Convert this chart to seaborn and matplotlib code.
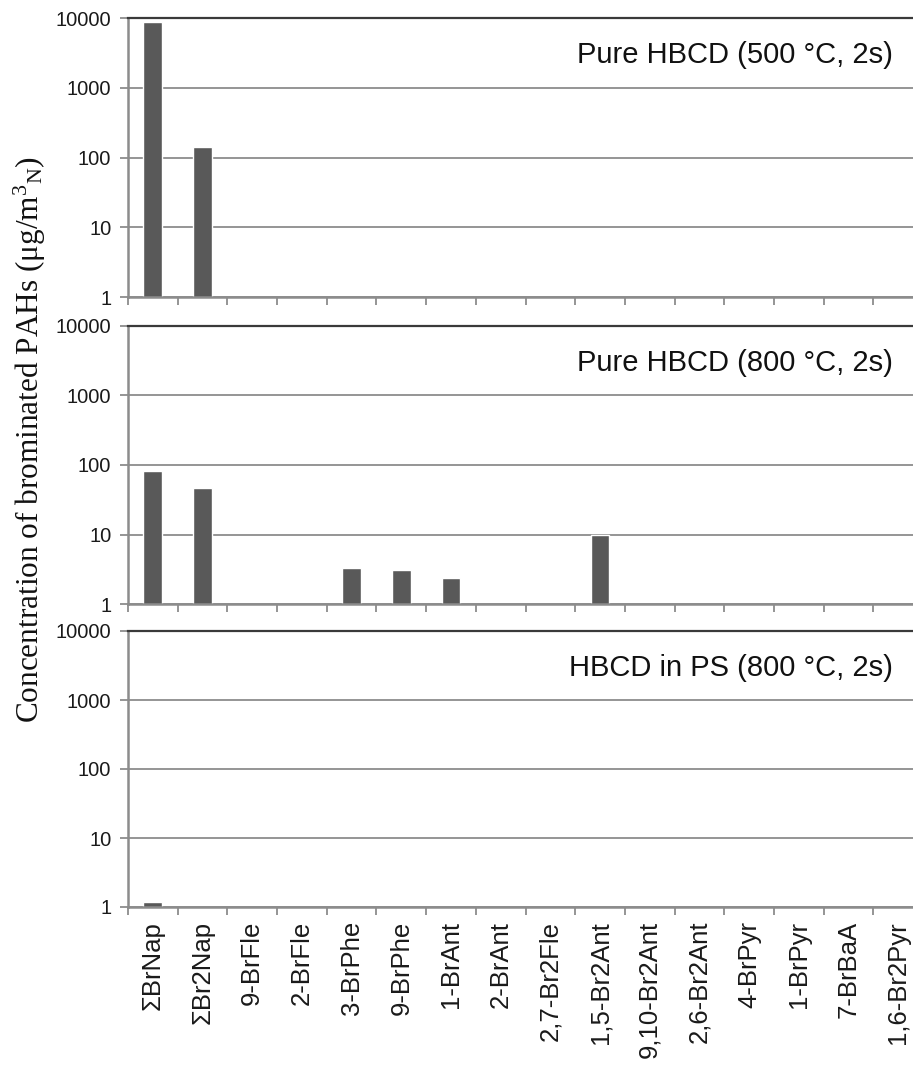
import seaborn as sns
import matplotlib.pyplot as plt
import matplotlib.ticker as mticker
import pandas as pd
import numpy as np

# ----------------------------
# Data
# ----------------------------
compounds = ["ΣBrNap", "ΣBr2Nap", "9-BrFle", "2-BrFle", "3-BrPhe", "9-BrPhe",
             "1-BrAnt", "2-BrAnt", "2,7-Br2Fle", "1,5-Br2Ant", "9,10-Br2Ant",
             "2,6-Br2Ant", "4-BrPyr", "1-BrPyr", "7-BrBaA", "1,6-Br2Pyr"]

hbcd_500 = [8750, 141, 0, 0, 0, 0, 0, 0, 0, 0, 0, 0, 0, 0, 0, 0]
hbcd_800 = [83, 47, 0, 0, 3.3, 3.1, 2.4, 0, 0, 9.7, 0, 0, 0, 0, 0, 0]
hbcd_ps_800 = [1.18, 0, 0, 0, 0, 0, 0, 0, 0, 0, 0, 0, 0, 0, 0, 0]

panel_titles = ["Pure HBCD (500 °C, 2s)", "Pure HBCD (800 °C, 2s)",
                "HBCD in PS (800 °C, 2s)"]
y_ticks = [1, 10, 100, 1000, 10000]

rows = []
for title, vals in zip(panel_titles, [hbcd_500, hbcd_800, hbcd_ps_800]):
    for comp, v in zip(compounds, vals):
        rows.append([title, comp, v])
df = pd.DataFrame(rows, columns=["Condition", "Compound", "Value"])

# ----------------------------
# Figure
# ----------------------------
sns.set_style("white")
plt.rcParams["font.family"] = ["Liberation Sans", "DejaVu Sans"]
plt.rcParams["mathtext.fontset"] = "custom"
plt.rcParams["mathtext.rm"] = "Liberation Serif"
plt.rcParams["mathtext.it"] = "Liberation Serif:italic"

fig = plt.figure(figsize=(9.13, 10.65), dpi=100)

W, H = 913, 1065
left, right = 128, 923
panels_px = [(18, 297), (326, 604), (631, 907)]

grid_c = "#8c8c8c"
for i, (title, (top, bot)) in enumerate(zip(panel_titles, panels_px)):
    ax = fig.add_axes([left / W, 1 - bot / H, (right - left) / W, (bot - top) / H])
    sub = df[df["Condition"] == title]
    sns.barplot(data=sub, x="Compound", y="Value", order=compounds,
                color="#595959", saturation=1, width=0.38, ax=ax)
    ax.set_yscale("log")
    ax.set_ylim(1, 10000)
    ax.set_xlim(-0.5, len(compounds) - 0.5)
    ax.set_axisbelow(True)
    ax.yaxis.grid(True, color=grid_c, lw=1.3)
    ax.xaxis.grid(False)

    ax.yaxis.set_major_locator(mticker.FixedLocator(y_ticks))
    ax.yaxis.set_major_formatter(mticker.FixedFormatter([str(t) for t in y_ticks]))
    ax.yaxis.set_minor_locator(mticker.NullLocator())
    ax.tick_params(axis="y", which="major", left=True, length=6, width=1.3,
                   color=grid_c, direction="out", pad=6, labelsize=14.5,
                   labelcolor="#1a1a1a")

    ax.xaxis.set_minor_locator(mticker.FixedLocator(np.arange(-0.5, len(compounds), 1)))
    ax.tick_params(axis="x", which="major", length=0, pad=10, labelsize=18.5,
                   labelrotation=90, labelcolor="#1a1a1a")
    ax.tick_params(axis="x", which="minor", bottom=True, length=6, width=1.3,
                   color=grid_c, direction="out")
    if i < 2:
        ax.tick_params(axis="x", which="major", labelbottom=False)

    ax.set_xlabel("")
    ax.set_ylabel("")
    for side in ["left", "bottom"]:
        ax.spines[side].set_color(grid_c)
        ax.spines[side].set_linewidth(1.8)
    ax.spines["top"].set_color("#3a3a3a")
    ax.spines["top"].set_linewidth(1.6)
    ax.spines["right"].set_visible(False)

    fig.text(893 / W, 1 - (top + 37) / H, title, ha="right", va="center",
             fontsize=21, color="#111111")

fig.text(30 / W, 1 - 440 / H,
         r"Concentration of brominated PAHs ($\mathrm{\mu}$g/m$^{3}$$_{\mathrm{N}}$)",
         rotation=90, ha="center", va="center", fontsize=22.5,
         family="Liberation Serif", color="#111111")

plt.savefig("out.png", dpi=100)
plt.close()
